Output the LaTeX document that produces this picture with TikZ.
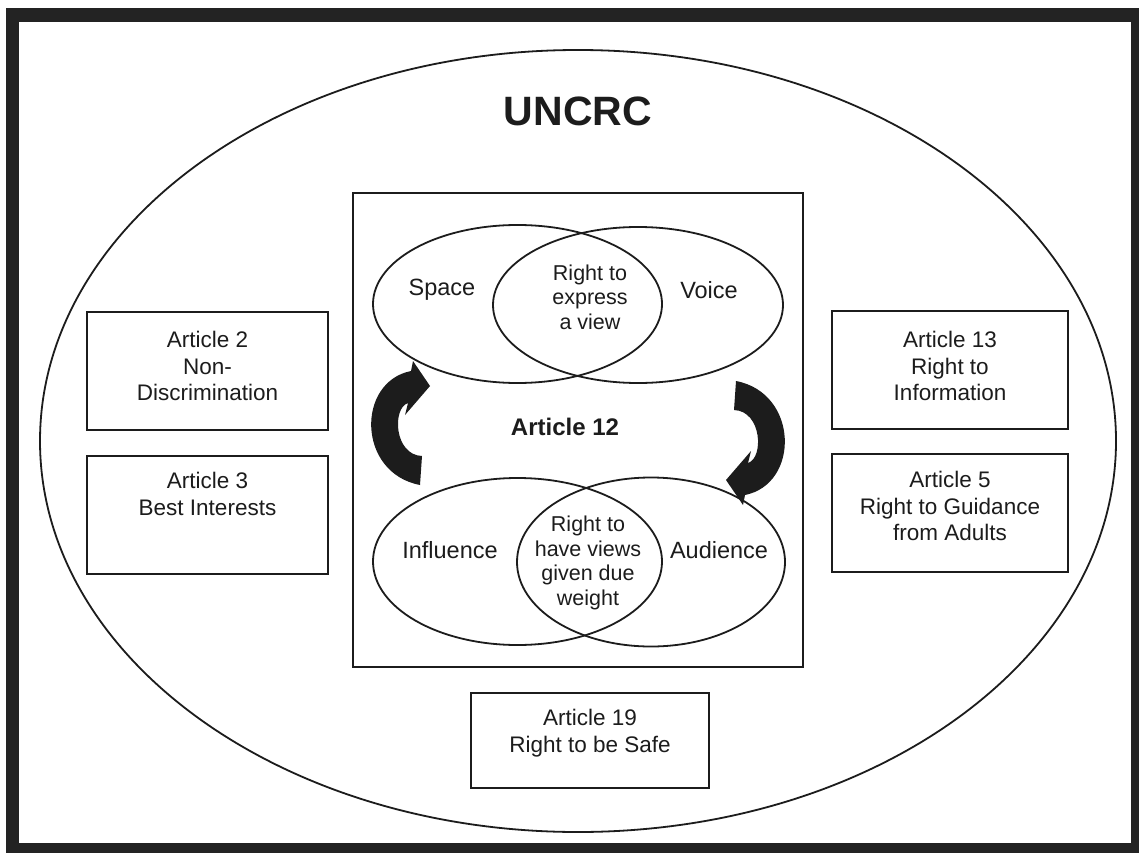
\documentclass[tikz,border=0pt]{standalone}
\usepackage{fontspec}
\setmainfont{Liberation Sans}
\usetikzlibrary{shapes.geometric}
\definecolor{ink}{HTML}{1C1C1C}
\definecolor{frame}{HTML}{232323}
\tikzset{
  ln/.style={draw=ink, line width=1.8pt},
  artbox/.style={ln, rectangle, inner sep=0pt},
  vennell/.style={ln, ellipse, inner sep=0pt},
  boxtext/.style={font=\fontsize{22.5}{26.5}\selectfont, align=center, text=ink},
  venntext/.style={font=\fontsize{23.5}{25}\selectfont, align=center, text=ink},
  innertext/.style={font=\fontsize{21.5}{24.5}\selectfont, align=center, text=ink},
  curvarrow/.style={fill=ink},
}
\begin{document}
\begin{tikzpicture}[x=1pt, y=-1pt]
\useasboundingbox (0,0) rectangle (1139,853);
\fill[white] (0,0) rectangle (1139,853);
% frame
\fill[frame] (6,8) rectangle (1139,853);
\fill[white] (19,22) rectangle (1131,843);
% outer ellipse
\node[vennell, minimum width=1076pt, minimum height=782pt] (outer) at (578,441) {};
\node[font=\bfseries\fontsize{41}{45}\selectfont, text=ink] (title) at (578,111) {UNCRC};
% central box
\node[artbox, minimum width=450pt, minimum height=474pt] (centre) at (578,430) {};
% Venn ellipses
\node[vennell, minimum width=289pt, minimum height=158pt] (space) at (517.5,304) {};
\node[vennell, minimum width=290pt, minimum height=156pt] (voice) at (638,305) {};
\node[vennell, minimum width=289pt, minimum height=167pt] (influence) at (517.5,561.5) {};
\node[vennell, minimum width=268pt, minimum height=169pt] (audience) at (651,562) {};
% Venn labels
\node[venntext] (tspace) at (442,290) {Space};
\node[venntext] (tvoice) at (709,290) {Voice};
\node[innertext] (texpress) at (590,297) {Right to\\express\\a view};
\node[font=\bfseries\fontsize{24}{25}\selectfont, text=ink] (art12) at (565,427) {Article 12};
\node[venntext] (tinfl) at (450,550) {Influence};
\node[venntext] (taud) at (719,550) {Audience};
\node[innertext] (tweight) at (588,563) {Right to\\have views\\given due\\weight};
% curved arrows
\fill[curvarrow] (422,456) .. controls (394,455) and (392,408) .. (408,403)
  -- (405,415) -- (430,386) -- (413,361) -- (411,371)
  .. controls (356,382) and (357,473) .. (420,485) -- cycle;
\begin{scope}[rotate around={180:(578,433)}]
\fill[curvarrow] (422,456) .. controls (394,455) and (392,408) .. (408,403)
  -- (405,415) -- (430,386) -- (413,361) -- (411,371)
  .. controls (356,382) and (357,473) .. (420,485) -- cycle;
\end{scope}
% article boxes
\node[artbox, minimum width=241pt, minimum height=118pt] (a2) at (207.5,371) {};
\node[boxtext] (ta2) at (207.5,366) {Article 2\\Non-\\Discrimination};
\node[artbox, minimum width=241pt, minimum height=118pt] (a3) at (207.5,515) {};
\node[boxtext] (ta3) at (207.5,494) {Article 3\\Best Interests};
\node[artbox, minimum width=236pt, minimum height=118pt] (a13) at (950,370) {};
\node[boxtext] (ta13) at (950,366) {Article 13\\Right to\\Information};
\node[artbox, minimum width=236pt, minimum height=118pt] (a5) at (950,513) {};
\node[boxtext] (ta5) at (950,506) {Article 5\\Right to Guidance\\from Adults};
\node[artbox, minimum width=238pt, minimum height=95pt] (a19) at (590,740.5) {};
\node[boxtext] (ta19) at (590,733) {Article 19\\Right to be Safe};
\end{tikzpicture}
\end{document}
